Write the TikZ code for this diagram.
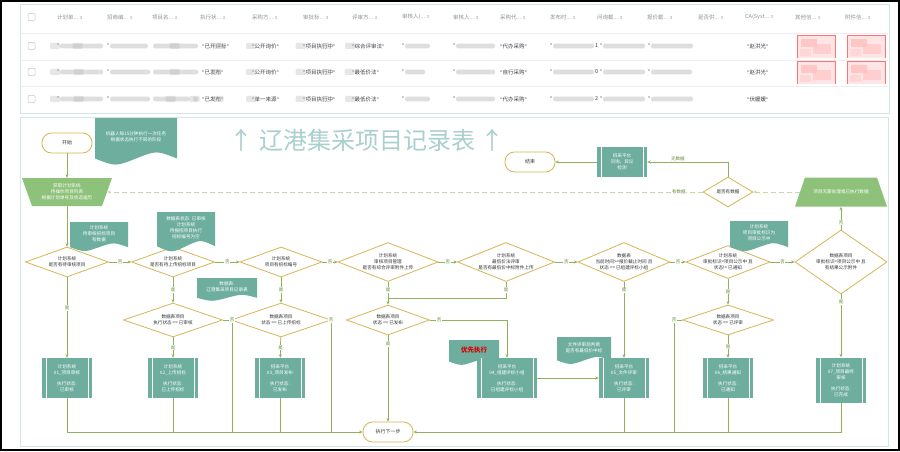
\documentclass[tikz,border=0pt]{standalone}
\usepackage{fontspec}
\setmainfont{Noto Sans CJK SC}
\newfontfamily\symf{DejaVu Sans}
\usetikzlibrary{shapes.geometric,arrows.meta,calc}
\definecolor{teal1}{HTML}{6DAE9F}
\definecolor{goldc}{HTML}{D6B656}
\definecolor{lgreen}{HTML}{8FB35A}
\definecolor{trapg}{HTML}{8EC27A}
\definecolor{dashc}{HTML}{CBD5A6}
\definecolor{titlec}{HTML}{AACFD0}
\definecolor{lblc}{HTML}{5E8A35}
\definecolor{hdrc}{HTML}{909399}
\definecolor{rowc}{HTML}{404246}
\definecolor{sepc}{HTML}{EBEEF5}
\definecolor{panelc}{HTML}{D3E5E5}
\definecolor{blurc}{HTML}{B8B8B8}
\newcommand\sortsym{{\symf\fontsize{4}{4}\selectfont ⇕}}
\newcommand\tdots{...}
\newcommand\qq{{\symf\fontsize{5}{6}\selectfont "}}
\newcommand\docnote[6]{%
  \fill[teal1] (#2-#4/2,#3) -- (#2+#4/2,#3) -- (#2+#4/2,#3+#5*0.9)
    .. controls (#2+#4/4,#3+#5*0.72) .. (#2,#3+#5*0.9)
    .. controls (#2-#4/4,#3+#5*1.08) .. (#2-#4/2,#3+#5*0.9) -- cycle;
  \node[wtext] (#1) at (#2,#3+#5*0.42) {#6};}
\newcommand\blob[3]{\fill[blurc, opacity=0.45, rounded corners=1.5pt] (#1,#3-2.4) rectangle (#2,#3+2.4);
  \fill[blurc, opacity=0.35, rounded corners=1pt] (#1+#2/2-#1/2-6,#3-3) rectangle (#1+#2/2-#1/2+4,#3+3);}
\newcommand\qblob[3]{\node[rowt] at (#1,#3) {\qq}; \blob{#1+3}{#2}{#3}}
\newcommand\cellt[3]{\node[rowt] at (#1,#2) {\qq#3\qq};}
\newcommand\pinkbox[2]{%
  \fill[red!10] (#1,#2) rectangle (#1+38,#2+23);
  \fill[red!30, opacity=0.6] (#1+4,#2+4) rectangle (#1+20,#2+12);
  \fill[red!25, opacity=0.6] (#1+16,#2+9) rectangle (#1+34,#2+19);
  \fill[red!20, opacity=0.6] (#1+3,#2+14) rectangle (#1+14,#2+21);
  \draw[red!55, line width=0.5pt] (#1,#2+23) -- (#1,#2) -- (#1+38,#2) -- (#1+38,#2+23);}
\begin{document}
\begin{tikzpicture}[x=1pt,y=-1pt,
  line/.style={draw=lgreen, line width=0.75pt},
  arr/.style={line, -{Stealth[length=3.5pt,width=3pt]}},
  dashline/.style={draw=dashc, dash pattern=on 5pt off 3pt},
  term/.style={draw=goldc, line width=0.8pt, fill=white, rounded corners=9.5pt, minimum width=50pt, minimum height=20pt, inner sep=0pt, font=\fontsize{5}{6}\selectfont, text=black!80},
  dia/.style={diamond, draw=goldc, line width=0.8pt, fill=white, inner sep=0pt},
  dtext/.style={font=\fontsize{4.6}{6}\selectfont, align=center, text=black!80, inner sep=0pt},
  wtext/.style={font=\fontsize{4.6}{6}\selectfont, align=center, text=white, inner sep=0pt},
  proc/.style={fill=teal1, minimum width=50pt, minimum height=40pt, inner sep=0pt, text=white, align=center, font=\fontsize{4.6}{6}\selectfont,
    path picture={\draw[white, line width=0.6pt]
      ([xshift=4pt]path picture bounding box.north west) -- ([xshift=4pt]path picture bounding box.south west)
      ([xshift=-4pt]path picture bounding box.north east) -- ([xshift=-4pt]path picture bounding box.south east);}},
  trapbox/.style={wtext, minimum height=28pt},
  lbl/.style={fill=white, inner sep=0.6pt, font=\fontsize{4.5}{5}\selectfont, text=lblc},
  hdr/.style={anchor=west, inner sep=0pt, font=\fontsize{5.5}{6}\selectfont, text=hdrc},
  rowt/.style={anchor=west, inner sep=0pt, font=\fontsize{5.5}{6}\selectfont, text=rowc}]
\useasboundingbox (0,0) rectangle (900,452);
\fill[white] (0,0) rectangle (900,452);
\draw[black, line width=2pt] (1,1) rectangle (898.5,450);
% ---------- table ----------
\draw[panelc, line width=0.6pt] (20,4.5) rectangle (889,113);
\foreach \y in {33,60,86} \draw[sepc, line width=0.6pt] (21,\y) -- (888,\y);
\foreach \y in {17,46,72,99} \draw[gray!45, rounded corners=1pt, line width=0.5pt] (28,\y-3.5) rectangle (35,\y+3.5);
\foreach \x/\t in {57/计划单,107/招商编,152/项目名,200/执行状,252/采购方,303/审批标,352/评审方,402/审核人(,453/审核人,500/采购代,550/发布时,597/问询截,647/报价截,698/是否供,745/CA(Syst,795/其他信,845/附件信}
  \node[hdr] at (\x,17) {\t\tdots\ \sortsym};
% row 1
\qblob{57}{103}{46} \qblob{107}{148}{46} \blob{153}{198}{46}
\cellt{202}{46}{已开评标} \cellt{252}{46}{公开询价} \cellt{303}{46}{项目执行中} \cellt{352}{46}{综合评审法}
\qblob{402}{430}{46} \qblob{453}{495}{46} \cellt{500}{46}{代办采购}
\qblob{550}{594}{46} \node[rowt] at (595,46) {1}; \qblob{600}{645}{46} \qblob{648}{693}{46}
\cellt{747}{46}{赵洪光}
\pinkbox{797}{35} \pinkbox{847}{35}
% row 2
\qblob{57}{103}{72} \qblob{107}{150}{72} \blob{153}{198}{72}
\cellt{202}{72}{已发布} \cellt{252}{72}{公开询价} \cellt{303}{72}{项目执行中} \cellt{352}{72}{最低价法}
\qblob{402}{425}{72} \qblob{453}{495}{72} \cellt{500}{72}{自行采购}
\qblob{550}{594}{72} \node[rowt] at (595,72) {0}; \qblob{600}{645}{72} \qblob{648}{692}{72}
\cellt{747}{72}{赵洪光}
\pinkbox{797}{61} \pinkbox{847}{61}
% row 3
\qblob{57}{103}{99} \qblob{107}{150}{99} \blob{153}{190}{99} \blob{193}{198}{99}
\cellt{202}{99}{已发布} \cellt{252}{99}{单一来源} \cellt{303}{99}{项目执行中} \cellt{352}{99}{最低价法}
\qblob{402}{430}{99} \qblob{453}{495}{99} \cellt{500}{99}{代办采购}
\qblob{550}{594}{99} \node[rowt] at (595,99) {2}; \qblob{600}{645}{99} \qblob{648}{693}{99}
\cellt{747}{99}{伏媛媛}
% ---------- flow panel ----------
\draw[panelc, line width=0.8pt] (20,117) rectangle (888,446);
\node[font=\fontsize{24}{24}\selectfont, text=titlec] (title) at (367,140) {↑ 辽港集采项目记录表 ↑};
% top
\node[term] (start) at (67,143) {开始};
\docnote{n1}{136}{118}{82}{45}{机器人每15分钟执行一次任务\\根据状态执行不同的阶段}
\fill[trapg] (22,178) -- (112,178) -- (102,206) -- (32,206) -- cycle;
\node[trapbox, minimum width=80pt] (t1) at (67,192) {获取计划系统\\待操作项目列表\\根据计划单号及状态遍历};
\node[term] (end) at (530,162) {结束};
\node[proc, minimum height=30pt] (b0) at (622,162) {招采平台\\问询、异议\\检测};
\node[dia, minimum width=50pt, minimum height=30pt] (d0) at (728,192) {};
\node[dtext] at (d0) {是否有数据};
\fill[trapg] (805,177.5) -- (877,177.5) -- (887,206.5) -- (795,206.5) -- cycle;
\node[trapbox, minimum width=82pt, minimum height=29pt] (t2) at (841,192) {项目无需处理或已执行数据};
% decision row
\node[dia, minimum width=83pt, minimum height=30pt] (d1) at (67,262) {};
\node[dtext] at (d1) {计划系统\\是否有待审核项目};
\node[dia, minimum width=83pt, minimum height=30pt] (d2) at (173,262) {};
\node[dtext] at (d2) {计划系统\\是否有待上传招标项目};
\node[dia, minimum width=82pt, minimum height=30pt] (d3) at (281,262) {};
\node[dtext] at (d3) {计划系统\\项目有招标编号};
\node[dia, minimum width=100pt, minimum height=39pt] (d4) at (388,262) {};
\node[dtext] at (d4) {计划系统\\审核项目管理\\是否有综合评审附件上传};
\node[dia, minimum width=97pt, minimum height=39pt] (d5) at (506,262) {};
\node[dtext] at (d5) {计划系统\\最低价法评审\\是否有最低价中标附件上传};
\node[dia, minimum width=92pt, minimum height=39pt] (d6) at (624,262) {};
\node[dtext] at (d6) {数据表\\当前时间>=报价截止时间 且\\状态 == 已组建评标小组};
\node[dia, minimum width=84pt, minimum height=33pt] (d7) at (728,262) {};
\node[dtext] at (d7) {计划系统\\审批标识=项目公示中 且\\状态!= 已通知};
\node[dia, minimum width=92pt, minimum height=64pt] (d8) at (841,262) {};
\node[dtext] at (d8) {数据表项目\\审批标识=项目公示中 且\\有结果公示附件};
% second decision row
\node[dia, minimum width=99pt, minimum height=34pt] (d2b) at (173,320) {};
\node[dtext] at (d2b) {数据表项目\\执行状态 == 已审核};
\node[dia, minimum width=100pt, minimum height=34pt] (d3b) at (281,320) {};
\node[dtext] at (d3b) {数据表项目\\状态 == 已上传招标};
\node[dia, minimum width=83pt, minimum height=30pt] (d4b) at (388,320) {};
\node[dtext] at (d4b) {数据表项目\\状态 == 已发布};
\node[dia, minimum width=91pt, minimum height=30pt] (d7b) at (728,320) {};
\node[dtext] at (d7b) {数据表项目\\状态 == 已评审};
% notes
\docnote{n2}{99}{222}{58}{28}{计划系统\\待审核招标项目\\有数据}
\docnote{n3}{186}{212}{58}{38}{数据表状态: 已审核\\计划系统\\待报招项目执行\\招标编号为空}
\docnote{n4}{227}{278}{60}{22}{数据表:\\辽港集采项目记录表}
\docnote{n6}{759}{221}{58}{29}{计划系统\\项目审批标识为\\项目公示中}
\docnote{n7}{474}{340}{50}{24}{\fontsize{6.5}{7}\selectfont\bfseries\color{red!85!black}优先执行}
\docnote{n8}{584}{337}{54}{26}{文件评审前判断\\是否有最低价中标}
% process boxes
\node[proc] (b1) at (67,378) {计划系统\\01\_项目审核\\[5pt]执行状态:\\已审核};
\node[proc] (b2) at (173,378) {计划系统\\02\_上传招标\\[5pt]执行状态:\\已上传招标};
\node[proc] (b3) at (280,378) {招采平台\\03\_项目发布\\[5pt]执行状态:\\已发布};
\node[proc, minimum width=60pt] (b4) at (507,378) {招采平台\\04\_组建评标小组\\[5pt]执行状态:\\已组建评标小组};
\node[proc] (b5) at (624,378) {招采平台\\05\_文件评审\\[5pt]执行状态:\\已评审};
\node[proc] (b6) at (728,378) {招采平台\\06\_结果通知\\[5pt]执行状态:\\已通知};
\node[proc, minimum height=45pt] (b7) at (841,380) {计划系统\\07\_项目最终\\审核\\[5pt]执行状态:\\已完成};
\node[term] (exec) at (388,432) {执行下一步};
% ---------- connectors ----------
\draw[arr] (start) -- (t1);
\draw[arr] (t1) -- (d1);
\draw[arr, dashline] (t2) -- (d0);
\draw[arr, dashline] (d0) -- node[lbl, pos=0.04]{有数据} (t1);
\draw[arr] (d0.north) |- node[lbl, pos=0.81, above=0.5pt, fill=none]{无数据} (b0.east);
\draw[arr] (b0) -- (end);
\draw[arr] (d8) -- node[lbl, pos=0.3]{否} (t2);
\draw[arr] (d1) -- node[lbl]{否} (d2);
\draw[arr] (d2) -- node[lbl]{否} (d3);
\draw[arr] (d3) -- node[lbl]{否} (d4);
\draw[arr] (d4) -- node[lbl]{否} (d5);
\draw[arr] (d5) -- node[lbl]{否} (d6);
\draw[arr] (d6) -- node[lbl]{否} (d7);
\draw[arr] (d7) -- node[lbl]{否} (d8);
\draw[arr] (d1) -- node[lbl, pos=0.38]{是} (b1);
\draw[arr] (d2) -- node[lbl]{是} (d2b);
\draw[arr] (d2b) -- node[lbl]{是} (b2);
\draw[arr] (d3) -- node[lbl]{是} (d3b);
\draw[arr] (d3b) -- node[lbl]{是} (b3);
\coordinate (j4) at (388,298);
\draw[line] (d4.south) -- node[lbl]{是} (j4);
\draw[line] (d5.south) |- node[lbl, pos=0.25]{是} (j4);
\draw[arr] (j4) -- (d4b.north);
\draw[arr] (d4b.east) -| node[lbl, pos=0.06]{否} (b4.north);
\draw[arr] (d4b) -- node[lbl, pos=0.1]{是} (exec);
\draw[arr] (b4) -- (b5);
\draw[arr] (d6) -- node[lbl, pos=0.11]{是} (b5);
\draw[arr] (d7) -- node[lbl]{是} (d7b);
\draw[arr] (d7b) -- node[lbl]{是} (b6);
\draw[arr] (d8) -- node[lbl, pos=0.12]{是} (b7);
% bus to 执行下一步
\coordinate (c2) at (232,432);
\coordinate (c3) at (331,432);
\coordinate (c7) at (674,432);
\draw[arr] (b1.south) |- (exec.west);
\draw[line] (b2.south) -- (b2.south |- exec.west);
\draw[line] (b3.south) -- (b3.south |- exec.west);
\draw[line] (d2b.east) -| node[lbl, pos=0.5]{否} (c2);
\draw[line] (d3b.east) -| node[lbl, pos=0.5]{否} (c3);
\draw[arr] (b7.south) |- (exec.east);
\draw[line] (b5.south) -- (b5.south |- exec.east);
\draw[line] (b6.south) -- (b6.south |- exec.east);
\draw[line] (d7b.west) -| node[lbl, pos=0.5]{否} (c7);
\end{tikzpicture}
\end{document}
